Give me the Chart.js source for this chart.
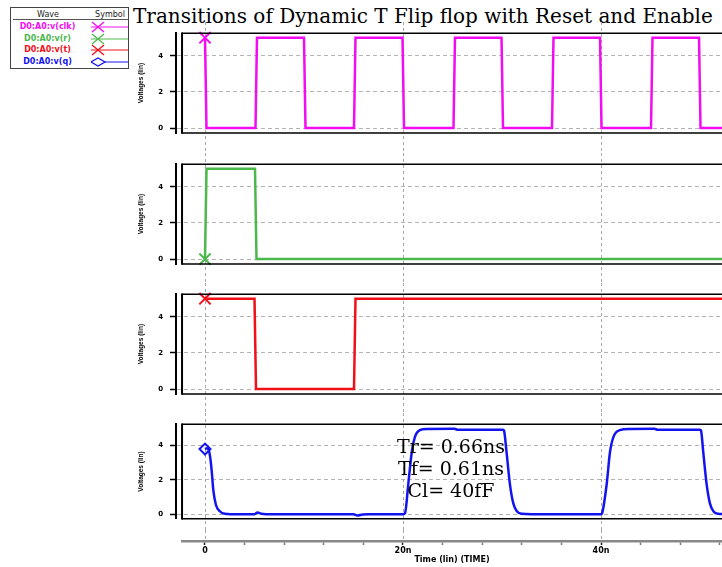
<!DOCTYPE html>
<html>
<head>
<meta charset="utf-8">
<script src="https://cdn.jsdelivr.net/npm/chart.js@4.4.1/dist/chart.umd.min.js"></script>
<style>
  html, body { margin: 0; padding: 0; background: #fff; }
  body { width: 722px; height: 567px; position: relative; overflow: hidden; }
  canvas { position: absolute; left: 0; }
  #titulo { position: absolute; left: 133px; top: 4px; font: 20px/24px "DejaVu Serif"; white-space: nowrap; color: #000; }
  #nota { position: absolute; left: 351px; top: 435px; width: 200px; text-align: center; font: 19px/22px "DejaVu Serif"; color: #000; z-index: 2; }
  #legenda { position: absolute; left: 10px; top: 7px; width: 117px; height: 60px; border: 1px solid #444; background: #fff; z-index: 2;
             font-family: "DejaVu Sans"; }
  #legenda .cab { position: absolute; left: 2px; right: 0; top: 3px; height: 8px; border-bottom: 1px solid #555; font-size: 8px; line-height: 8px; color: #222; }
  #legenda .cab span { position: absolute; top: 0; text-align: center; }
  #legenda .item { position: absolute; left: 0; width: 117px; height: 12px; }
  #legenda .item span { position: absolute; left: 0; width: 73px; text-align: center; font-weight: bold; font-size: 8px; line-height: 12px; white-space: nowrap; }
  #legenda .item svg { position: absolute; left: 80px; top: 0; }
</style>
</head>
<body>
<div id="titulo">Transitions of Dynamic T Flip flop with Reset and Enable</div>
<div id="legenda">
  <div class="cab"><span style="left:20px;width:30px">Wave</span><span style="left:79px;width:36px">Symbol</span></div>
</div>
<canvas id="painelClk" width="722" height="131" style="top:22px"></canvas>
<canvas id="painelR" width="722" height="130" style="top:153px"></canvas>
<canvas id="painelT" width="722" height="130" style="top:283px"></canvas>
<canvas id="painelQ" width="722" height="117" style="top:413px"></canvas>
<canvas id="eixoTempo" width="722" height="37" style="top:530px"></canvas>
<div id="nota">Tr= 0.66ns<br>Tf= 0.61ns<br>Cl= 40fF</div>
<script>
// sinais (tempo em ns, tensao em V)
const nomesSinais = ['D0:A0:v(clk)', 'D0:A0:v(r)', 'D0:A0:v(t)', 'D0:A0:v(q)']
const coresSinais = ['#f20cf2', '#4cb84c', '#f01018', '#1414f0']
const marcadores = ['crossRot', 'crossRot', 'crossRot', 'rectRot']

const tempoClk = [0, 0.15, 5.1, 5.25, 10.0, 10.15, 15.05, 15.2, 19.95, 20.1, 25.1, 25.25, 29.95, 30.1, 35.05, 35.2, 39.9, 40.05, 45.05, 45.2, 49.9, 50.05, 53]
const voltClk = [5, 0, 0, 5, 5, 0, 0, 5, 5, 0, 0, 5, 5, 0, 0, 5, 5, 0, 0, 5, 5, 0, 0]

const tempoR = [0, 0.15, 5.05, 5.2, 53]
const voltR = [0, 5, 5, 0, 0]

const tempoT = [0, 5.0, 5.15, 15.05, 15.2, 53]
const voltT = [5, 5, 0, 0, 5, 5]

const tempoQ = [0, 0.2, 0.4, 0.55, 0.68, 0.84, 1.1, 1.5, 2.0, 2.6, 5.0, 5.3, 5.7, 6.2, 15.0, 15.4, 15.9, 16.5,
  20.0, 20.2, 20.53, 20.88, 21.2, 21.7, 22.4, 25.2, 25.5, 30.1, 30.2, 30.46, 30.8, 31.14, 31.5, 32.0, 33.0,
  40.0, 40.1, 40.57, 40.9, 41.25, 41.9, 42.9, 45.4, 45.7, 50.0, 50.1, 50.33, 50.67, 51.0, 51.35, 51.8, 53]
const voltQ = [3.8, 3.85, 3.7, 3.2, 2.5, 1.4, 0.55, 0.17, 0.02, 0, 0, 0.1, 0.02, 0, 0, -0.08, -0.02, 0,
  0, 0.05, 1.74, 3.6, 4.5, 4.9, 4.97, 4.98, 4.93, 4.93, 4.88, 3.6, 1.74, 0.63, 0.17, 0.02, 0,
  0, 0.05, 1.74, 3.6, 4.5, 4.9, 4.97, 4.98, 4.93, 4.93, 4.88, 3.6, 1.74, 0.63, 0.17, 0.02, 0]

const ticksVolt = [0, 2, 4]
const gradeTempo = [0, 20, 40]
const marcasTempo = [0, 4, 8, 12, 16, 20, 24, 28, 32, 36, 40, 44, 48, 52]

// faixas dos eixos
const voltMin = -0.27
const voltMax = 5.25
const tempoMinPainel = -2.93
const inicioCaixa = -2.32
const tempoMax = 52.22

const fonteEixo = 'DejaVu Sans'

function montaPontos(tempos, volts) {
  return tempos.map((t, i) => ({ x: t, y: volts[i] }))
}

const linhasTempo = {
  id: 'linhasTempo',
  beforeDatasetsDraw(chart, args, opts) {
    const { ctx, scales: { x } } = chart
    const fim = opts.ateEixo ? chart.chartArea.bottom : chart.height
    ctx.save()
    ctx.strokeStyle = '#a8a8a8'
    ctx.lineWidth = 1
    ctx.setLineDash([3, 3])
    gradeTempo.forEach(v => {
      const px = Math.round(x.getPixelForValue(v)) + 0.5
      ctx.beginPath()
      ctx.moveTo(px, 0)
      ctx.lineTo(px, fim)
      ctx.stroke()
    })
    ctx.restore()
  }
}

const moldura = {
  id: 'moldura',
  afterDraw(chart) {
    const { ctx, chartArea: a, scales: { x } } = chart
    const esq = x.getPixelForValue(inicioCaixa)
    ctx.save()
    ctx.strokeStyle = '#000'
    ctx.lineWidth = 1.5
    ctx.beginPath()
    ctx.moveTo(esq, a.top)
    ctx.lineTo(a.right, a.top)
    ctx.moveTo(esq, a.bottom)
    ctx.lineTo(a.right, a.bottom)
    ctx.stroke()
    ctx.lineWidth = 2
    ctx.beginPath()
    ctx.moveTo(esq, a.top - 0.75)
    ctx.lineTo(esq, a.bottom + 0.75)
    ctx.stroke()
    ctx.restore()
  }
}

function criaPainel(idCanvas, indice, pontos, suave) {
  const canvas = document.getElementById(idCanvas)
  const folgaBaixo = canvas.height - 10 - 101
  return new Chart(canvas, {
    type: 'line',
    data: {
      datasets: [{
        label: nomesSinais[indice],
        data: pontos,
        borderColor: coresSinais[indice],
        backgroundColor: 'rgba(0,0,0,0)',
        borderWidth: 2.5,
        tension: suave ? 0.4 : 0,
        cubicInterpolationMode: suave ? 'monotone' : 'default',
        pointStyle: marcadores[indice],
        pointRadius: ctx => ctx.dataIndex === 0 ? (marcadores[indice] === 'rectRot' ? 5.5 : 8) : 0,
        pointHoverRadius: 0,
        pointBorderWidth: 2,
        pointBorderColor: coresSinais[indice],
        clip: false
      }]
    },
    options: {
      responsive: false,
      animation: false,
      events: [],
      layout: { autoPadding: false, padding: { left: 130, right: 0, top: 10, bottom: folgaBaixo } },
      plugins: { legend: { display: false }, tooltip: { enabled: false } },
      scales: {
        x: {
          type: 'linear',
          display: false,
          min: tempoMinPainel,
          max: tempoMax
        },
        y: {
          min: voltMin,
          max: voltMax,
          afterFit: s => { s.width = 46 },
          afterBuildTicks: s => { s.ticks = ticksVolt.map(v => ({ value: v })) },
          ticks: {
            color: '#000',
            font: { family: fonteEixo, size: 7, weight: 'bold' },
            padding: 7,
            callback: v => String(v)
          },
          grid: {
            color: '#b4b4b4',
            lineWidth: 1,
            tickLength: 6,
            tickColor: '#000',
            tickWidth: 1.5,
            tickBorderDash: []
          },
          border: { display: true, color: '#000', width: 2, dash: [4, 3] },
          title: {
            display: true,
            text: 'Voltages (lin)',
            color: '#000',
            font: { family: 'Liberation Sans', size: 6.5, weight: 'bold' },
            padding: { top: 7, bottom: 0 }
          }
        }
      }
    },
    plugins: [linhasTempo, moldura]
  })
}

criaPainel('painelClk', 0, montaPontos(tempoClk, voltClk), false)
criaPainel('painelR', 1, montaPontos(tempoR, voltR), false)
criaPainel('painelT', 2, montaPontos(tempoT, voltT), false)
criaPainel('painelQ', 3, montaPontos(tempoQ, voltQ), true)

// eixo de tempo separado, embaixo
new Chart(document.getElementById('eixoTempo'), {
  type: 'line',
  data: { datasets: [] },
  options: {
    responsive: false,
    animation: false,
    events: [],
    layout: { autoPadding: false, padding: { left: 182, right: 0, top: 0, bottom: 0 } },
    plugins: { legend: { display: false }, tooltip: { enabled: false }, linhasTempo: { ateEixo: true } },
    scales: {
      y: { display: false, min: 0, max: 1 },
      x: {
        type: 'linear',
        position: 'bottom',
        min: inicioCaixa,
        max: tempoMax,
        afterFit: s => { s.height = 26 },
        afterBuildTicks: s => { s.ticks = marcasTempo.map(v => ({ value: v })) },
        ticks: {
          autoSkip: false,
          maxRotation: 0,
          color: '#000',
          padding: 1,
          font: { family: fonteEixo, size: 8, weight: 'bold' },
          callback: v => gradeTempo.includes(v) ? (v === 0 ? '0' : v + 'n') : ''
        },
        grid: {
          drawOnChartArea: false,
          tickLength: 4,
          tickColor: ctx => gradeTempo.includes(ctx.tick && ctx.tick.value) ? '#222' : '#777',
          tickWidth: 1.5
        },
        border: { display: true, color: '#888', width: 2.5 },
        title: {
          display: true,
          text: 'Time (lin) (TIME)',
          color: '#000',
          font: { family: fonteEixo, size: 8, weight: 'bold' },
          padding: { top: 0, bottom: 2 }
        }
      }
    }
  },
  plugins: [linhasTempo]
})

// legenda
const legenda = document.getElementById('legenda')
nomesSinais.forEach((nome, i) => {
  const item = document.createElement('div')
  item.className = 'item'
  item.style.top = (13 + i * 11.5) + 'px'
  item.style.color = coresSinais[i]
  const simbolo = marcadores[i] === 'rectRot'
    ? `<polygon points="0,6 7,2 14,6 7,10" fill="#fff" stroke="${coresSinais[i]}" stroke-width="1.3"/>`
    : `<line x1="1" y1="1" x2="13" y2="11" stroke="${coresSinais[i]}" stroke-width="1.3"/><line x1="1" y1="11" x2="13" y2="1" stroke="${coresSinais[i]}" stroke-width="1.3"/>`
  item.innerHTML = `<span>${nome}</span>` +
    `<svg width="37" height="12"><line x1="0" y1="6" x2="37" y2="6" stroke="${coresSinais[i]}" stroke-width="1"/>${simbolo}</svg>`
  legenda.appendChild(item)
})
</script>
</body>
</html>
